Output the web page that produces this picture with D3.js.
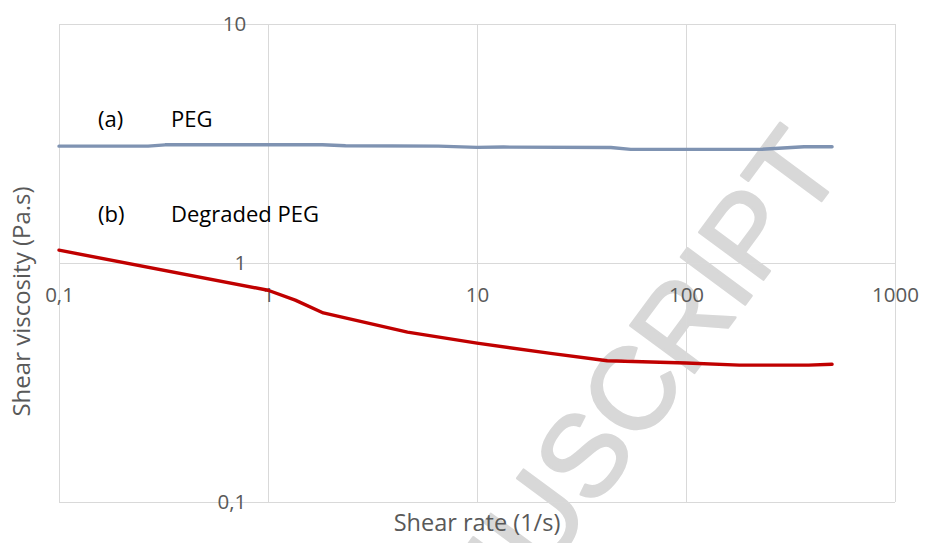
<!DOCTYPE html>
<html>
<head>
<meta charset="utf-8">
<script src="https://cdn.jsdelivr.net/npm/d3@7"></script>
<style>
  html, body { margin: 0; padding: 0; background: #fff; }
  svg { display: block; }
</style>
</head>
<body>
<svg id="chart" width="926" height="543"></svg>
<script>
// Flow curves: shear viscosity vs shear rate
const shearRatePEG = [0.1, 0.267, 0.322, 1.82, 2.35, 6.55, 10, 13.4, 43.7, 54.4, 229, 367, 500];
const viscosityPEG = [3.08, 3.08, 3.12, 3.12, 3.09, 3.08, 3.045, 3.053, 3.039, 2.987, 2.987, 3.062, 3.062];

const shearRateDegraded = [0.1, 1, 1.35, 1.84, 4.65, 10, 22.5, 42, 100, 180, 386, 500];
const viscosityDegraded = [1.13, 0.768, 0.698, 0.617, 0.513, 0.461, 0.418, 0.389, 0.381, 0.373, 0.373, 0.376];

const xTickValues = [0.1, 1, 10, 100, 1000];
const yTickValues = [0.1, 1, 10];

const labelsText = [
  { tag: "(a)", name: "PEG" },
  { tag: "(b)", name: "Degraded PEG" }
];

const svg = d3.select("#chart");
const plot = { left: 59, right: 895, top: 24, bottom: 501.7 };

const x = d3.scaleLog().domain([0.1, 1000]).range([plot.left, plot.right]);
const y = d3.scaleLog().domain([0.1, 10]).range([plot.bottom, plot.top]);

const commaLocale = d3.formatLocale({ decimal: ",", thousands: "", grouping: [3], currency: ["", ""] });
const fmt = v => commaLocale.format("~g")(v);

const font = "'Open Sans', sans-serif";
const grey = "#595959";
const gridColor = "#d9d9d9";

// Watermark behind the plot
svg.append("text")
  .attr("transform", "translate(846,168) rotate(-53.5)")
  .attr("text-anchor", "end")
  .attr("font-family", "'Liberation Sans', Arial, sans-serif")
  .attr("font-size", 116)
  .attr("fill", "#d8d8d8")
  .attr("stroke", "#d8d8d8")
  .attr("stroke-width", 2.5)
  .attr("stroke-linejoin", "round")
  .text("MANUSCRIPT");

// Gridlines
const grid = svg.append("g").attr("stroke", gridColor).attr("stroke-width", 1).attr("shape-rendering", "crispEdges");
grid.selectAll("line.vx").data(xTickValues).join("line")
  .attr("x1", d => Math.round(x(d)) + 0.5).attr("x2", d => Math.round(x(d)) + 0.5)
  .attr("y1", plot.top).attr("y2", plot.bottom);
grid.selectAll("line.hy").data(yTickValues).join("line")
  .attr("y1", d => Math.round(y(d)) + 0.5).attr("y2", d => Math.round(y(d)) + 0.5)
  .attr("x1", plot.left).attr("x2", plot.right);

// Axes cross at (1, 1)
const xAxis = d3.axisBottom(x).tickValues(xTickValues).tickFormat(fmt).tickSize(0).tickPadding(24.7);
const yAxis = d3.axisLeft(y).tickValues(yTickValues).tickFormat(fmt).tickSize(0).tickPadding(21.7);

const gx = svg.append("g").attr("transform", `translate(0,${y(1)})`).call(xAxis);
const gy = svg.append("g").attr("transform", `translate(${x(1)},0)`).call(yAxis);
[gx, gy].forEach(g => {
  g.select(".domain").remove();
  g.selectAll("text").attr("font-family", font).attr("font-size", 20.5).attr("fill", grey);
});

// Series
const line = d3.line().x(d => x(d[0])).y(d => y(d[1]));
svg.append("path")
  .datum(d3.zip(shearRatePEG, viscosityPEG))
  .attr("d", line).attr("fill", "none")
  .attr("stroke", "#7f93b2").attr("stroke-width", 3.4)
  .attr("stroke-linejoin", "round").attr("stroke-linecap", "round");
svg.append("path")
  .datum(d3.zip(shearRateDegraded, viscosityDegraded))
  .attr("d", line).attr("fill", "none")
  .attr("stroke", "#c00000").attr("stroke-width", 3.4)
  .attr("stroke-linejoin", "round").attr("stroke-linecap", "round");

// Series annotations
const ann = svg.append("g").attr("font-family", font).attr("font-size", 22).attr("fill", "#000");
ann.selectAll("text.tag").data(labelsText).join("text")
  .attr("x", 98).attr("y", (d, i) => i === 0 ? 126.7 : 222.3).text(d => d.tag);
ann.selectAll("text.name").data(labelsText).join("text")
  .attr("x", 171).attr("y", (d, i) => i === 0 ? 126.7 : 222.3).text(d => d.name);

// Axis titles
svg.append("text")
  .attr("x", (plot.left + plot.right) / 2).attr("y", 531)
  .attr("text-anchor", "middle")
  .attr("font-family", font).attr("font-size", 23.5).attr("fill", grey)
  .text("Shear rate (1/s)");
svg.append("text")
  .attr("transform", "translate(30,301.5) rotate(-90)")
  .attr("text-anchor", "middle")
  .attr("font-family", font).attr("font-size", 24).attr("fill", grey)
  .text("Shear viscosity (Pa.s)");
</script>
</body>
</html>
